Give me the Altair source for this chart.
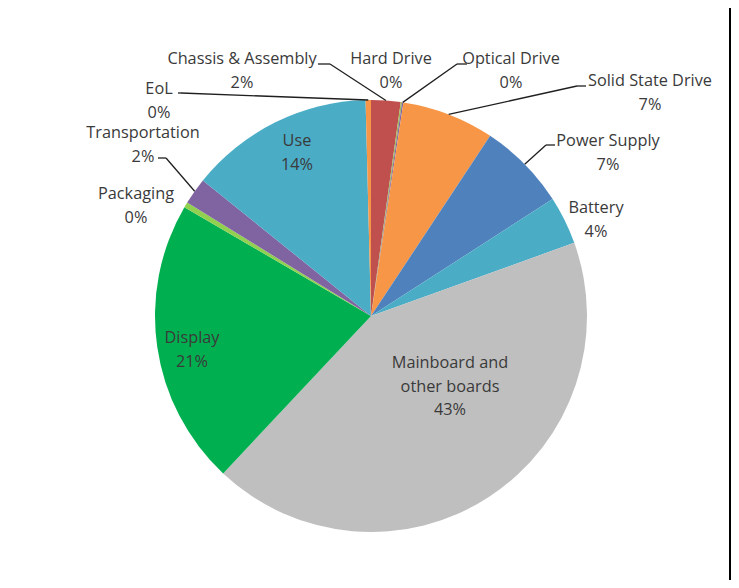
import math
import altair as alt
import pandas as pd

# ---------------- data ----------------
categories = ["Chassis & Assembly", "Hard Drive", "Optical Drive", "Solid State Drive",
              "Power Supply", "Battery", "Mainboard and other boards", "Display",
              "Packaging", "Transportation", "Use", "EoL"]
values = [2.2, 0.1, 0.1, 6.9, 6.6, 3.6, 42.5, 21.4, 0.4, 2.0, 13.8, 0.4]
pct_labels = ["2%", "0%", "0%", "7%", "7%", "4%", "43%", "21%", "0%", "2%", "14%", "0%"]
label_names = ["Chassis & Assembly", "Hard Drive", "Optical Drive", "Solid State Drive",
               "Power Supply", "Battery", "Mainboard and\nother boards", "Display",
               "Packaging", "Transportation", "Use", "EoL"]
colors = ["#C0504D", "#9BBB59", "#8064A2", "#F79646", "#4F81BD", "#4BACC6",
          "#BFBFBF", "#00B050", "#92D050", "#8064A2", "#4BACC6", "#F79646"]

# ---------------- layout (page pixels) ----------------
W, H = 723, 572
PAGE = 8
CX, CY, R = 371 - PAGE, 316 - PAGE, 216
FONT = "Open Sans"
FS = 16.3
LH = 23.5

label_pos = {  # first-line baseline, centre x
    "Chassis & Assembly": (242, 64),
    "Hard Drive": (391, 64),
    "Optical Drive": (511, 64),
    "Solid State Drive": (650, 86),
    "Power Supply": (608, 146),
    "Battery": (596, 213),
    "Mainboard and other boards": (450, 368),
    "Display": (192, 343),
    "Packaging": (136, 199),
    "Transportation": (143, 138),
    "Use": (297, 146),
    "EoL": (159, 94),
}
leaders = {  # (x at label, x at elbow, y)
    "Chassis & Assembly": (318, 330, 64),
    "Optical Drive": (467, 457, 64),
    "Solid State Drive": (586, 577, 86),
    "Power Supply": (555, 546, 145),
    "Transportation": (158, 166, 158),
    "EoL": (178, 181, 93),
}

df = pd.DataFrame({"idx": list(range(len(categories))), "category": categories,
                   "value": values, "pct": pct_labels, "name": label_names})
df["text"] = df["name"] + "\n" + df["pct"]
df["lx"] = [label_pos[c][0] - PAGE for c in categories]
df["ly"] = [label_pos[c][1] - PAGE for c in categories]
df["efrom"] = [leaders[c][0] - PAGE if c in leaders else None for c in categories]
df["ex"] = [leaders[c][1] - PAGE if c in leaders else None for c in categories]
df["ey"] = [leaders[c][2] - PAGE if c in leaders else None for c in categories]

xs = alt.Scale(domain=[0, W], range=[0, W])
ys = alt.Scale(domain=[0, H], range=[0, H])

base = alt.Chart(df)

arcs = base.mark_arc(outerRadius=R).encode(
    theta=alt.Theta("value:Q", stack=True),
    order=alt.Order("idx:Q"),
    color=alt.Color("category:N", scale=alt.Scale(domain=categories, range=colors), legend=None),
    x=alt.value(CX), y=alt.value(CY),
)

lead_base = base.transform_joinaggregate(total="sum(value)").transform_window(
    cum="sum(value)", sort=[alt.SortField("idx")], frame=[None, 0]
).transform_calculate(
    mid="(datum.cum - datum.value/2) / datum.total * 2 * PI",
    px=f"{CX} + {R} * sin(datum.mid)",
    py=f"{CY} - {R} * cos(datum.mid)",
).transform_filter("isValid(datum.ex)")

diag = lead_base.mark_rule(color="#1f1f1f", strokeWidth=1.3).encode(
    x=alt.X("ex:Q", scale=xs, axis=None), y=alt.Y("ey:Q", scale=ys, axis=None),
    x2="px:Q", y2="py:Q",
)
horiz = lead_base.mark_rule(color="#1f1f1f", strokeWidth=1.3).encode(
    x=alt.X("efrom:Q", scale=xs, axis=None), y=alt.Y("ey:Q", scale=ys, axis=None),
    x2="ex:Q",
)

labels = base.mark_text(font=FONT, fontSize=FS, color="#3a3a3a", align="center",
                        baseline="alphabetic", lineBreak="\n", lineHeight=LH).encode(
    x=alt.X("lx:Q", scale=xs, axis=None), y=alt.Y("ly:Q", scale=ys, axis=None),
    text="text:N",
)

frame = base.mark_rect(color="black").encode(
    x=alt.value(721), x2=alt.value(727), y=alt.value(0), y2=alt.value(H)
).transform_filter("datum.idx == 0")

chart = alt.layer(arcs, diag, horiz, labels, frame).properties(
    width=W, height=H, padding=0, autosize=alt.AutoSizeParams(type="none")
).configure_view(stroke=None)

chart.save("out.html", embed_options={"renderer": "svg", "actions": False})
